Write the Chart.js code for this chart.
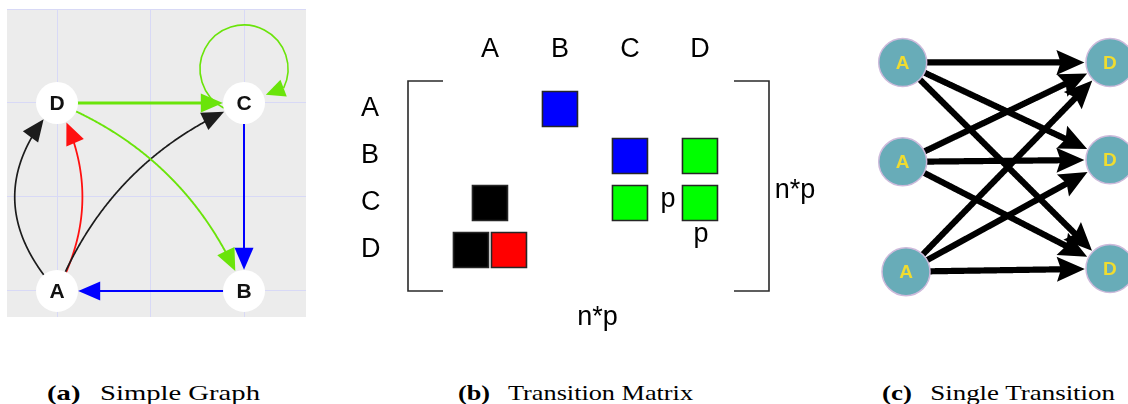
<!DOCTYPE html>
<html>
<head>
<meta charset="utf-8">
<title>Simple graph, transition matrix and single transition</title>
<script src="https://cdn.jsdelivr.net/npm/chart.js"></script>
<style>
  html, body { margin: 0; padding: 0; background: #fff; }
  body { width: 1128px; height: 404px; position: relative; overflow: hidden; }
  canvas { position: absolute; display: block; }
  #graphCanvas { left: 7px; top: 9px; }
  #matrixCanvas { left: 340px; top: 0; }
  #singleCanvas { left: 860px; top: 20px; filter: blur(0.6px); }
  .caption {
    position: absolute; top: 382px;
    font-family: "Liberation Serif", "Times New Roman", serif;
    font-size: 22px; line-height: 22px; color: #000;
    white-space: nowrap; transform-origin: 0 0;
  }
  .caption b { font-weight: bold; }
  .caption .gap { display: inline-block; width: 15px; }
</style>
</head>
<body>
<canvas id="graphCanvas" width="299" height="308"></canvas>
<canvas id="matrixCanvas" width="480" height="340"></canvas>
<canvas id="singleCanvas" width="268" height="300"></canvas>

<script>
// ---------------- data ----------------
const states = ['A', 'B', 'C', 'D'];

// directed, typed edges of the simple graph
const edgeSources   = ['A',  'A',  'A',  'D',  'D',  'C',  'C',  'B'];
const edgeTargets   = ['D',  'D',  'C',  'C',  'B',  'C',  'B',  'A'];
const edgeRelations = ['r1', 'r2', 'r1', 'r3', 'r3', 'r3', 'r4', 'r4'];

// block / matrix size annotations
const blockSizeLabel = 'p';
const matrixSizeLabel = 'n*p';

// one transition step: every source copy may go to every target copy
const singleSources = ['A', 'A', 'A'];
const singleTargets = ['D', 'D', 'D'];

const captionTags  = ['(a)', '(b)', '(c)'];
const captionTexts = ['Simple Graph', 'Transition Matrix', 'Single Transition'];

// ---------------- layout & style ----------------
const SANS = '"Liberation Sans", Arial, sans-serif';

const graphLayout = { A: [0, 0], B: [2, 0], C: [2, 2], D: [0, 2] };
const graphStyle = {
  colors: { r1: '#1c1c1c', r2: '#ff1010', r3: '#6ae40a', r4: '#0000ff' },
  bends: [0.45, -0.27, 0.21, 0, 0.21, 0, 0, 0],   // control-point offset, share of chord length
  widths: [1.7, 1.8, 1.7, 2.8, 1.9, 1.6, 2, 2],
  nodeRadius: 21,
  headLength: 22,
  headHalf: 9.5,
  loopLift: 34, loopRadius: 44, loopStart: 2.05, loopEnd: 0.45
};

const matrixStyle = {
  colors: { r1: '#000000', r2: '#ff0000', r3: '#00ff00', r4: '#0000ff' },
  shareStep: 0.543,      // shift (column units) between edges sharing one cell
  cellRadius: 24.75,     // rect point: side = radius * sqrt(2)
  font: '27px ' + SANS,
  serif: 35
};

const singleLayout = {
  source: { x: [0, 0, 0.016], y: [0, 0.95, 2] },
  target: { x: [1, 1, 1],     y: [0, 0.93, 1.97] }
};
const singleStyle = {
  fill: '#68acb8', border: '#cdbadb', text: '#f0dc30',
  nodeRadius: 24, lineWidth: 6.2, headLength: 28, headHalf: 12.5
};

const captionBoxes = [[47, 260], [458, 693], [882, 1115]];

// ---------------- helpers ----------------
function drawHead(ctx, tip, dir, len, half, notch) {
  const bx = tip.x - dir.x * len, by = tip.y - dir.y * len;
  ctx.beginPath();
  ctx.moveTo(tip.x, tip.y);
  ctx.lineTo(bx - dir.y * half, by + dir.x * half);
  ctx.lineTo(tip.x - dir.x * len * notch, tip.y - dir.y * len * notch);
  ctx.lineTo(bx + dir.y * half, by - dir.x * half);
  ctx.closePath();
  ctx.fill();
}

function quad(p0, c, p2, t) {
  const u = 1 - t;
  return { x: u * u * p0.x + 2 * u * t * c.x + t * t * p2.x,
           y: u * u * p0.y + 2 * u * t * c.y + t * t * p2.y };
}

// quadratic edge from p0 to p2, arrow tip on the target's rim
function drawEdge(ctx, p0, p2, bend, o) {
  const dx = p2.x - p0.x, dy = p2.y - p0.y;
  const c = { x: (p0.x + p2.x) / 2 + dy * bend, y: (p0.y + p2.y) / 2 - dx * bend };
  const N = 300, pts = [];
  for (let i = 0; i <= N; i++) pts.push(quad(p0, c, p2, i / N));
  let k = N;
  while (k > 0 && Math.hypot(pts[k].x - p2.x, pts[k].y - p2.y) < o.tipRadius) k--;
  const tip = pts[k], t = k / N;
  const der = { x: 2 * (1 - t) * (c.x - p0.x) + 2 * t * (p2.x - c.x),
                y: 2 * (1 - t) * (c.y - p0.y) + 2 * t * (p2.y - c.y) };
  const dl = Math.hypot(der.x, der.y);
  const dir = { x: der.x / dl, y: der.y / dl };
  let m = k;
  while (m > 0 && Math.hypot(pts[m].x - tip.x, pts[m].y - tip.y) < o.headLength * 0.7) m--;
  ctx.strokeStyle = o.color; ctx.fillStyle = o.color; ctx.lineWidth = o.lineWidth;
  ctx.beginPath();
  ctx.moveTo(pts[0].x, pts[0].y);
  for (let i = 1; i <= m; i++) ctx.lineTo(pts[i].x, pts[i].y);
  ctx.stroke();
  drawHead(ctx, tip, dir, o.headLength, o.headHalf, o.notch);
}

function pointPixel(chart, ds, i) {
  const el = chart.getDatasetMeta(ds).data[i];
  return { x: el.x, y: el.y };
}

const fixedTicks = values => scale => { scale.ticks = values.map(v => ({ value: v })); };

// ---------------- (a) simple graph ----------------
const graphPanel = {
  id: 'graphPanel',
  beforeDraw(chart) {
    const { ctx, chartArea: a } = chart;
    ctx.save();
    ctx.fillStyle = '#ececec';
    ctx.fillRect(a.left, a.top, a.right - a.left, a.bottom - a.top);
    ctx.restore();
  },
  beforeDatasetsDraw(chart) {
    const ctx = chart.ctx, s = graphStyle;
    ctx.save();
    ctx.lineCap = 'butt';
    edgeSources.forEach((src, i) => {
      const p0 = pointPixel(chart, 0, states.indexOf(src));
      const p2 = pointPixel(chart, 0, states.indexOf(edgeTargets[i]));
      const color = s.colors[edgeRelations[i]];
      if (src === edgeTargets[i]) {
        // self loop above the node
        const cx = p0.x, cy = p0.y - s.loopLift;
        ctx.strokeStyle = color; ctx.fillStyle = color; ctx.lineWidth = s.widths[i];
        ctx.beginPath();
        ctx.arc(cx, cy, s.loopRadius, s.loopStart, Math.PI * 2 + s.loopEnd, false);
        ctx.stroke();
        const base = { x: cx + s.loopRadius * Math.cos(s.loopEnd), y: cy + s.loopRadius * Math.sin(s.loopEnd) };
        const vx = p0.x - base.x, vy = p0.y - base.y, vl = Math.hypot(vx, vy);
        const dir = { x: vx / vl, y: vy / vl };
        const tip = { x: base.x + dir.x * 19, y: base.y + dir.y * 19 };
        drawHead(ctx, tip, dir, 19, 9, 1);
      } else {
        drawEdge(ctx, p0, p2, s.bends[i], {
          color, lineWidth: s.widths[i], tipRadius: s.nodeRadius,
          headLength: s.headLength, headHalf: s.headHalf, notch: 1
        });
      }
    });
    ctx.restore();
  },
  afterDatasetsDraw(chart) {
    const ctx = chart.ctx;
    ctx.save();
    ctx.font = 'bold 21px ' + SANS;
    ctx.fillStyle = '#111';
    ctx.textAlign = 'center';
    ctx.textBaseline = 'middle';
    states.forEach((name, i) => {
      const p = pointPixel(chart, 0, i);
      ctx.fillText(name, p.x, p.y + 1);
    });
    ctx.restore();
  }
};

const hiddenAxis = {
  ticks: { display: false },
  grid: { color: '#d8d9f6', lineWidth: 1, drawTicks: false },
  border: { display: false }
};

new Chart(document.getElementById('graphCanvas'), {
  type: 'scatter',
  data: {
    datasets: [{
      data: states.map(s => ({ x: graphLayout[s][0], y: graphLayout[s][1] })),
      pointRadius: graphStyle.nodeRadius,
      pointHoverRadius: graphStyle.nodeRadius,
      pointBackgroundColor: '#ffffff',
      pointBorderWidth: 0
    }]
  },
  options: {
    responsive: false, animation: false, events: [],
    layout: { padding: 0, autoPadding: false },
    plugins: { legend: { display: false }, tooltip: { enabled: false } },
    scales: {
      x: Object.assign({ type: 'linear', min: -0.535, max: 2.663,
        afterBuildTicks: fixedTicks([0, 1, 2]), afterFit: s => { s.height = 0; } }, hiddenAxis),
      y: Object.assign({ type: 'linear', min: -0.277, max: 3,
        afterBuildTicks: fixedTicks([0, 1, 2, 3]), afterFit: s => { s.width = 0; } }, hiddenAxis)
    }
  },
  plugins: [graphPanel]
});

// ---------------- (b) transition matrix ----------------
// row = target state, column = source state
const cellMap = new Map();
edgeSources.forEach((src, i) => {
  const key = edgeTargets[i] + '<' + src;
  if (!cellMap.has(key)) {
    cellMap.set(key, { row: states.indexOf(edgeTargets[i]), col: states.indexOf(src), rels: [] });
  }
  cellMap.get(key).rels.push(edgeRelations[i]);
});
const matrixPoints = [], matrixColors = [];
cellMap.forEach(cell => {
  const k = cell.rels.length;
  cell.rels.forEach((rel, j) => {
    matrixPoints.push({ x: cell.col + (j - (k - 1) / 2) * matrixStyle.shareStep, y: cell.row });
    matrixColors.push(matrixStyle.colors[rel]);
  });
});

const matrixPanel = {
  id: 'matrixPanel',
  afterDraw(chart) {
    const { ctx, chartArea: a, scales } = chart;
    const sv = matrixStyle.serif;
    ctx.save();
    // brackets
    ctx.strokeStyle = '#2a2a2a';
    ctx.lineWidth = 1.6;
    ctx.beginPath();
    ctx.moveTo(a.left + sv, a.top); ctx.lineTo(a.left, a.top);
    ctx.lineTo(a.left, a.bottom); ctx.lineTo(a.left + sv, a.bottom);
    ctx.moveTo(a.right - sv, a.top); ctx.lineTo(a.right, a.top);
    ctx.lineTo(a.right, a.bottom); ctx.lineTo(a.right - sv, a.bottom);
    ctx.stroke();
    // size annotations
    ctx.font = matrixStyle.font;
    ctx.fillStyle = '#000';
    ctx.textAlign = 'center';
    ctx.textBaseline = 'alphabetic';
    ctx.fillText(matrixSizeLabel, a.right + 26, (a.top + a.bottom) / 2 + 12);
    ctx.fillText(matrixSizeLabel, (a.left + a.right) / 2 + 9, a.bottom + 34);
    const cx = scales.x.getPixelForValue(states.indexOf('D'));
    const cy = scales.y.getPixelForValue(states.indexOf('C'));
    ctx.fillText(blockSizeLabel, cx - 32, cy + 4);
    ctx.fillText(blockSizeLabel, cx + 1, cy + 39);
    ctx.restore();
  }
};

const labelTicks = {
  autoSkip: false, maxRotation: 0, minRotation: 0,
  color: '#000',
  font: { family: SANS, size: 27 },
  callback: v => states[Math.round(v)]
};

new Chart(document.getElementById('matrixCanvas'), {
  type: 'scatter',
  data: {
    datasets: [{
      data: matrixPoints,
      pointStyle: 'rect',
      pointRadius: matrixStyle.cellRadius,
      pointHoverRadius: matrixStyle.cellRadius,
      pointBackgroundColor: matrixColors,
      pointBorderColor: '#262626',
      pointBorderWidth: 1.6
    }]
  },
  options: {
    responsive: false, animation: false, events: [],
    layout: { padding: { left: 21, right: 51, top: 0, bottom: 49 }, autoPadding: false },
    plugins: { legend: { display: false }, tooltip: { enabled: false } },
    scales: {
      x: {
        type: 'linear', position: 'top', min: -1.171, max: 3.986,
        afterBuildTicks: fixedTicks(states.map((_, i) => i)),
        afterFit: s => { s.height = 81; },
        grid: { display: false, drawTicks: false }, border: { display: false },
        ticks: Object.assign({ padding: 15 }, labelTicks)
      },
      y: {
        type: 'linear', reverse: true, min: -0.596, max: 3.872,
        afterBuildTicks: fixedTicks(states.map((_, i) => i)),
        afterFit: s => { s.width = 47; },
        grid: { display: false, drawTicks: false }, border: { display: false },
        ticks: Object.assign({ padding: 0, crossAlign: 'far' }, labelTicks)
      }
    }
  },
  plugins: [matrixPanel]
});

// ---------------- (c) single transition ----------------
const singlePanel = {
  id: 'singlePanel',
  beforeDatasetsDraw(chart) {
    const ctx = chart.ctx, s = singleStyle;
    ctx.save();
    singleSources.forEach((_, i) => {
      const p0 = pointPixel(chart, 0, i);
      singleTargets.forEach((__, j) => {
        const p2 = pointPixel(chart, 1, j);
        drawEdge(ctx, p0, p2, 0, {
          color: '#000', lineWidth: s.lineWidth, tipRadius: s.nodeRadius + 1,
          headLength: s.headLength, headHalf: s.headHalf, notch: 0.85
        });
      });
    });
    ctx.restore();
  },
  afterDatasetsDraw(chart) {
    const ctx = chart.ctx;
    ctx.save();
    ctx.font = 'bold 19px ' + SANS;
    ctx.fillStyle = singleStyle.text;
    ctx.textAlign = 'center';
    ctx.textBaseline = 'middle';
    [singleSources, singleTargets].forEach((names, ds) => {
      names.forEach((name, i) => {
        const p = pointPixel(chart, ds, i);
        ctx.fillText(name, p.x, p.y + 1);
      });
    });
    ctx.restore();
  }
};

const singleNode = {
  pointRadius: singleStyle.nodeRadius,
  pointHoverRadius: singleStyle.nodeRadius,
  pointBackgroundColor: singleStyle.fill,
  pointBorderColor: singleStyle.border,
  pointBorderWidth: 1.5
};

new Chart(document.getElementById('singleCanvas'), {
  type: 'scatter',
  data: {
    datasets: [
      Object.assign({ data: singleSources.map((_, i) => ({ x: singleLayout.source.x[i], y: singleLayout.source.y[i] })) }, singleNode),
      Object.assign({ data: singleTargets.map((_, i) => ({ x: singleLayout.target.x[i], y: singleLayout.target.y[i] })) }, singleNode)
    ]
  },
  options: {
    responsive: false, animation: false, events: [],
    layout: { padding: 0, autoPadding: false },
    plugins: { legend: { display: false }, tooltip: { enabled: false } },
    scales: {
      x: { type: 'linear', display: false, min: -0.206, max: 1.087 },
      y: { type: 'linear', display: false, reverse: true, min: -0.406, max: 2.462 }
    }
  },
  plugins: [singlePanel]
});

// ---------------- captions ----------------
captionTags.forEach((tag, i) => {
  const div = document.createElement('div');
  div.className = 'caption';
  const b = document.createElement('b');
  b.textContent = tag;
  const gap = document.createElement('span');
  gap.className = 'gap';
  div.appendChild(b);
  div.appendChild(gap);
  div.appendChild(document.createTextNode(captionTexts[i]));
  div.style.left = captionBoxes[i][0] + 'px';
  document.body.appendChild(div);
  const w = div.getBoundingClientRect().width;
  div.style.transform = 'scaleX(' + ((captionBoxes[i][1] - captionBoxes[i][0]) / w).toFixed(4) + ')';
});
</script>
</body>
</html>
